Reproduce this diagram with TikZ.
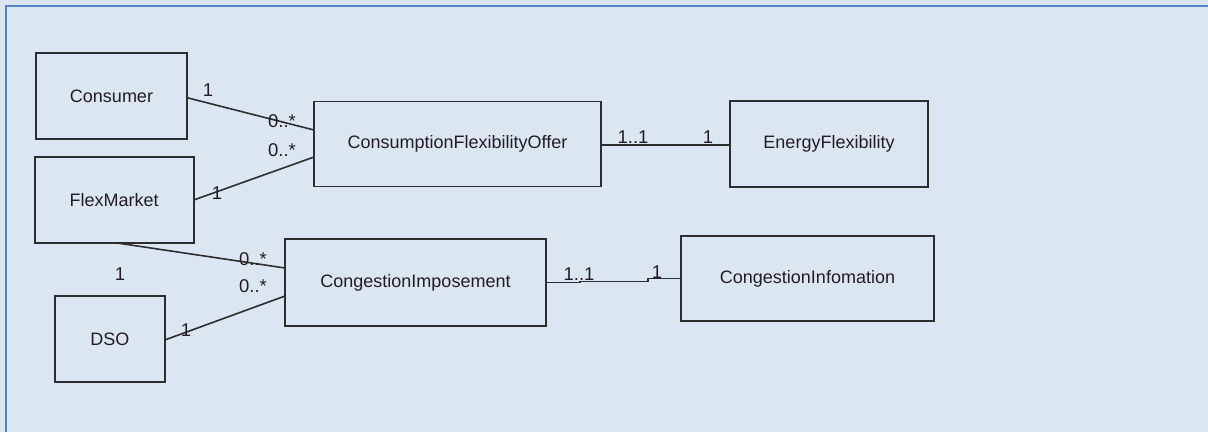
\documentclass[tikz,border=0pt]{standalone}
\usepackage{fontspec}
\setmainfont{Liberation Sans}
\definecolor{bgc}{RGB}{220,230,242}
\definecolor{framec}{RGB}{84,132,196}
\definecolor{boxc}{RGB}{45,45,45}
\definecolor{labc}{RGB}{35,28,38}
\tikzset{
  box/.style={draw=boxc, line width=1.9pt, inner sep=0pt, outer sep=0pt, text=labc,
    font=\fontsize{18}{20}\selectfont},
  conn/.style={draw=boxc, line width=1.6pt},
  lbl/.style={inner sep=0pt, outer sep=0pt, text=labc, font=\fontsize{18.5}{18}\selectfont},
}
\begin{document}
\begin{tikzpicture}[x=1pt, y=-1pt]
\useasboundingbox (0,0) rectangle (1208,432);
\fill[bgc] (0,0) rectangle (1208,432);
\draw[framec, line width=2.2pt] (6,432) -- (6,6) -- (1208,6);

% classes
\node[box, minimum width=151pt, minimum height=86pt] (cons) at (111.5,96) {Consumer};
\node[box, minimum width=159pt, minimum height=86pt] (flex) at (114.25,200) {FlexMarket};
\node[box, minimum width=109.5pt, minimum height=86pt] (dso) at (110,339) {DSO};
\node[box, minimum width=287pt, minimum height=85pt] (cfo) at (457.5,144) {ConsumptionFlexibilityOffer};
\node[box, minimum width=261pt, minimum height=87pt] (ci) at (415.5,282.5) {CongestionImposement};
\node[box, minimum width=198pt, minimum height=86pt] (ef) at (829,144) {EnergyFlexibility};
\node[box, minimum width=253pt, minimum height=85pt] (cinfo) at (807.5,278.5) {CongestionInfomation};

% associations
\draw[conn] ([yshift=-1.7pt]cons.east) -- ([yshift=14pt]cfo.west);
\draw[conn] (flex.east) -- ([yshift=-13pt]cfo.west);
\draw[conn] ([xshift=3pt]flex.south) -- ([yshift=14.5pt]ci.west);
\draw[conn] ([yshift=-1pt]dso.east) -- ([yshift=-13.5pt]ci.west);
\draw[conn] ([yshift=-1pt]cfo.east) -- ([yshift=-1pt]ef.west);
\draw[conn] (ci.east) -- ++(34,0) -- ++(0,-1) -- ++(68,0) -- ++(0,-3) -- (cinfo.west);

% multiplicities
\node[lbl] (m1) at (208,90) {1};
\node[lbl] (m2) at (282,121) {0..*};
\node[lbl] (m3) at (282,150) {0..*};
\node[lbl] (m4) at (217,193) {1};
\node[lbl] (m5) at (253,259) {0..*};
\node[lbl] (m6) at (253,286) {0..*};
\node[lbl] (m7) at (120,274) {1};
\node[lbl] (m8) at (186,330) {1};
\node[lbl] (m9) at (633,137) {1..1};
\node[lbl] (m10) at (708,137) {1};
\node[lbl] (m11) at (579,274) {1..1};
\node[lbl] (m12) at (657,272) {1};
\end{tikzpicture}
\end{document}
